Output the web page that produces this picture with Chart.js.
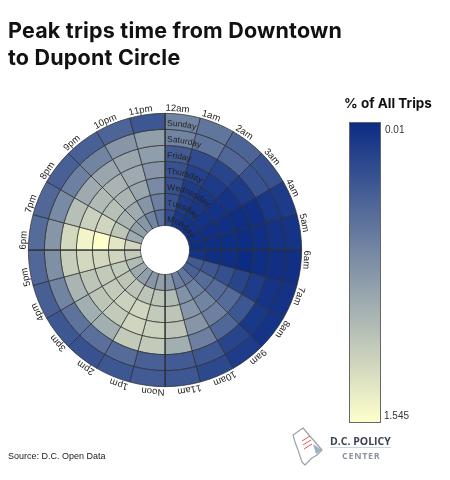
<!DOCTYPE html>
<html>
<head>
<meta charset="utf-8">
<script src="https://cdn.jsdelivr.net/npm/chart.js@4.4.1/dist/chart.umd.min.js"></script>
<style>
html,body{margin:0;padding:0;background:#fff;}
#wrap{position:relative;width:450px;height:480px;overflow:hidden;font-family:"Inter","Liberation Sans",sans-serif;}
#c{position:absolute;left:0;top:0;}
#title{position:absolute;left:8px;top:17px;font-weight:700;font-size:21.5px;line-height:27px;color:#111;letter-spacing:0.2px;white-space:nowrap;}
#ltitle{position:absolute;left:344px;top:95px;font-weight:700;font-size:13.5px;color:#111;white-space:nowrap;}
#bar{position:absolute;left:349px;top:122px;width:30px;height:299px;border:1px solid #666;}
.tick{position:absolute;font-size:10px;color:#333;font-family:"Liberation Sans",sans-serif;}
#source{position:absolute;left:8px;top:451px;font-size:9px;color:#222;font-family:"Liberation Sans",sans-serif;}
#logo1{position:absolute;left:330px;top:434px;font-size:10.5px;font-weight:700;color:#3b4452;letter-spacing:0px;font-family:"Open Sans",sans-serif;white-space:nowrap;}
#logoline{position:absolute;left:330px;top:447px;width:61px;height:1px;background:#c9d4df;}
#logo2{position:absolute;left:342px;top:449px;font-size:9px;font-weight:700;color:#8c959e;letter-spacing:0.7px;font-family:"Open Sans",sans-serif;white-space:nowrap;}
#icon{position:absolute;left:288px;top:424px;}
</style>
</head>
<body>
<div id="wrap">
  <canvas id="c" width="450" height="480"></canvas>
  <div id="title">Peak trips time from Downtown<br>to Dupont Circle</div>
  <div id="ltitle">% of All Trips</div>
  <div id="bar"></div>
  <div id="tickTop" class="tick" style="left:385px;top:124px;"></div>
  <div id="tickBot" class="tick" style="left:384px;top:410px;"></div>
  <div id="source">Source: D.C. Open Data</div>
  <svg id="icon" width="40" height="46" viewBox="288 424 40 46">
    <polygon points="293,435 303,428 315,442 322,450 317,455 312,458 305,465 302,462 298,450 295,442" fill="#fff" stroke="#9aa3ad" stroke-width="1.2" stroke-linejoin="round"/>
    <polygon points="313,444 322,450 316,454" fill="#9fb0c2"/>
    <line x1="302" y1="441" x2="310" y2="436" stroke="#e85a5a" stroke-width="1"/>
    <line x1="303" y1="445" x2="311" y2="440" stroke="#e85a5a" stroke-width="1"/>
    <line x1="304" y1="449" x2="312" y2="444" stroke="#e85a5a" stroke-width="1"/>
  </svg>
  <div id="logo1">D.C. POLICY</div>
  <div id="logoline"></div>
  <div id="logo2">CENTER</div>
</div>
<script>
// ---- DATA ----
const hours = ['12am','1am','2am','3am','4am','5am','6am','7am','8am','9am','10am','11am',
               'Noon','1pm','2pm','3pm','4pm','5pm','6pm','7pm','8pm','9pm','10pm','11pm'];
// rings from outermost to innermost
const days = ['Sunday','Saturday','Friday','Thursday','Wednesday','Tuesday','Monday'];
const sunday    = [0.65,0.55,0.42,0.29,0.12,0.07,0.04,0.06,0.07,0.13,0.22,0.32,0.35,0.32,0.29,0.32,0.38,0.44,0.47,0.44,0.39,0.39,0.42,0.32];
const saturday  = [0.65,0.55,0.44,0.29,0.10,0.06,0.04,0.07,0.10,0.19,0.32,0.35,0.39,0.47,0.50,0.53,0.65,0.73,0.78,0.70,0.62,0.65,0.78,0.85];
const friday    = [0.35,0.24,0.19,0.12,0.04,0.04,0.03,0.13,0.32,0.44,0.62,0.96,1.16,1.16,0.96,0.96,1.01,1.19,1.27,1.09,0.93,0.90,0.90,0.84];
const thursday  = [0.29,0.16,0.12,0.07,0.03,0.02,0.01,0.19,0.47,0.62,0.78,1.12,1.21,1.24,1.16,1.12,1.12,1.27,1.47,1.21,1.05,1.01,0.93,0.78];
const wednesday = [0.29,0.13,0.09,0.06,0.04,0.03,0.03,0.27,0.47,0.65,0.78,1.12,1.16,1.24,1.21,1.16,1.16,1.27,1.545,1.24,1.09,1.01,0.90,0.70];
const tuesday   = [0.29,0.12,0.09,0.06,0.04,0.03,0.03,0.32,0.47,0.62,0.75,1.05,1.12,1.12,1.12,1.12,1.16,1.24,1.36,1.12,1.01,0.93,0.78,0.62];
const monday    = [0.24,0.10,0.07,0.06,0.04,0.03,0.06,0.35,0.39,0.55,0.62,0.78,0.85,0.78,0.85,0.93,1.05,1.16,1.24,0.93,0.85,0.78,0.65,0.52];
const series = [sunday, saturday, friday, thursday, wednesday, tuesday, monday];
const legendTicks = [0.01, 1.545];

// ---- STYLE ----
const lowRGB = [12,44,132];
const highRGB = [255,255,204];
const vmin = legendTicks[0], vmax = legendTicks[1];
function colorFor(v){
  const t = Math.max(0, Math.min(1, (v - vmin) / (vmax - vmin)));
  const c = lowRGB.map((l,i)=>Math.round(l + (highRGB[i]-l)*t));
  return 'rgb(' + c.join(',') + ')';
}
document.getElementById('bar').style.background =
  'linear-gradient(to bottom,' + colorFor(vmin) + ',' + colorFor((vmin+vmax)/2) + ',' + colorFor(vmax) + ')';
document.getElementById('tickTop').textContent = String(legendTicks[0]);
document.getElementById('tickBot').textContent = String(legendTicks[1]);

function arcText(ctx, text, cx, cy, r, startA){
  let a = startA;
  for (const ch of text){
    const w = ctx.measureText(ch).width;
    ctx.save();
    ctx.translate(cx + r*Math.cos(a), cy + r*Math.sin(a));
    ctx.rotate(a + Math.PI/2);
    ctx.fillText(ch, 0, 0);
    ctx.restore();
    a += w / r;
  }
}

const labelPlugin = {
  id: 'radialLabels',
  afterDatasetsDraw(chart){
    const ctx = chart.ctx;
    const outer = chart.getDatasetMeta(0).data;
    const innerMeta = chart.getDatasetMeta(days.length-1).data;
    const cx = outer[0].x, cy = outer[0].y;
    const R = outer[0].outerRadius;
    const r0 = innerMeta[0].innerRadius;
    ctx.save();
    // main axis lines
    ctx.strokeStyle = '#333';
    ctx.lineWidth = 1.1;
    [0, 6, 12, 18].forEach(h=>{
      const a = outer[h].startAngle;
      ctx.beginPath();
      ctx.moveTo(cx + r0*Math.cos(a), cy + r0*Math.sin(a));
      ctx.lineTo(cx + R*Math.cos(a), cy + R*Math.sin(a));
      ctx.stroke();
    });
    // hour labels
    ctx.fillStyle = '#222';
    ctx.textAlign = 'left';
    ctx.textBaseline = 'alphabetic';
    ctx.font = '9.5px "Liberation Sans", sans-serif';
    hours.forEach((h,i)=>{
      arcText(ctx, h, cx, cy, R + 2.5, outer[i].startAngle + 0.004);
    });
    // day labels
    ctx.font = '8.5px "Liberation Sans", sans-serif';
    ctx.fillStyle = '#222';
    days.forEach((d,i)=>{
      const el = chart.getDatasetMeta(i).data[0];
      const rr = el.innerRadius + 3.5;
      arcText(ctx, d, cx, cy, rr, el.startAngle + 2/rr);
    });
    ctx.restore();
  }
};

new Chart(document.getElementById('c'), {
  type: 'doughnut',
  data: {
    labels: hours,
    datasets: days.map((d,i)=>({
      label: d,
      data: hours.map(()=>1),
      backgroundColor: series[i].map(colorFor),
      borderColor: '#2b2b2b',
      borderWidth: 0.7,
      hoverOffset: 0,
      offset: 0
    }))
  },
  options: {
    responsive: false,
    animation: false,
    events: [],
    cutout: 24.5,
    layout: { padding: { left: 28, right: 148, top: 113, bottom: 93 } },
    plugins: { legend: { display: false }, tooltip: { enabled: false }, title: { display: false } }
  },
  plugins: [labelPlugin]
});
</script>
</body>
</html>
